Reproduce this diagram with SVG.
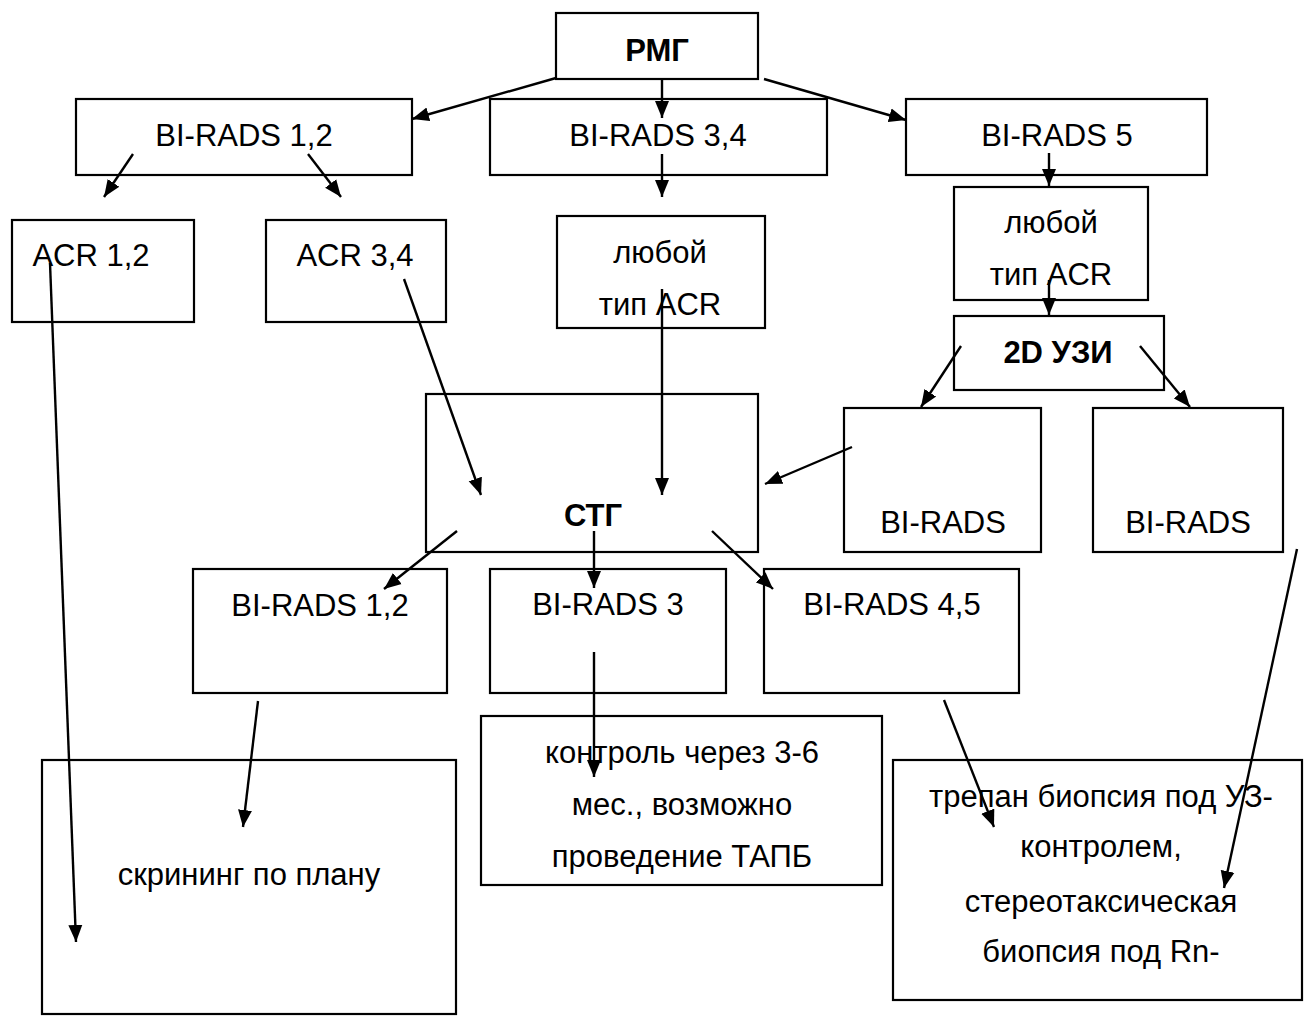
<svg xmlns="http://www.w3.org/2000/svg" width="1304" height="1016" viewBox="0 0 1304 1016">
<style>
.box{fill:#fff;stroke:#000;stroke-width:2.2}
.t{font-family:"Liberation Sans",Arial,sans-serif;font-size:31px;fill:#000;text-anchor:middle}
.b{font-weight:bold}
.c{stroke:#000;stroke-width:2.4;fill:none;marker-end:url(#ah)}
</style>
<defs>
<marker id="ah" markerUnits="userSpaceOnUse" markerWidth="18" markerHeight="16" refX="17" refY="8" orient="auto">
<path d="M0,1 L17,8 L0,15 z" fill="#000"/>
</marker>
</defs>
<rect width="1304" height="1016" fill="#fff"/>
<g id="n-rmg"><rect class="box" x="556" y="13" width="202" height="66"/><text class="t b" x="657" y="61">РМГ</text></g>
<g id="n-br12"><rect class="box" x="76" y="99" width="336" height="76"/><text class="t" x="244" y="146">BI-RADS 1,2</text></g>
<g id="n-br34"><rect class="box" x="490" y="99" width="337" height="76"/><text class="t" x="658" y="146">BI-RADS 3,4</text></g>
<g id="n-br5"><rect class="box" x="906" y="99" width="301" height="76"/><text class="t" x="1057" y="146">BI-RADS 5</text></g>
<g id="n-acr12"><rect class="box" x="12" y="220" width="182" height="102"/><text class="t" x="91" y="266">ACR 1,2</text></g>
<g id="n-acr34"><rect class="box" x="266" y="220" width="180" height="102"/><text class="t" x="355" y="266">ACR 3,4</text></g>
<g id="n-any1"><rect class="box" x="557" y="216" width="208" height="112"/><text class="t" x="660" y="263">любой</text><text class="t" x="660" y="315">тип ACR</text></g>
<g id="n-any2"><rect class="box" x="954" y="187" width="194" height="113"/><text class="t" x="1051" y="233">любой</text><text class="t" x="1051" y="285">тип ACR</text></g>
<g id="n-us"><rect class="box" x="954" y="316" width="210" height="74"/><text class="t b" x="1058" y="363">2D УЗИ</text></g>
<g id="n-usbr1"><rect class="box" x="844" y="408" width="197" height="144"/><text class="t" x="943" y="533">BI-RADS</text></g>
<g id="n-usbr2"><rect class="box" x="1093" y="408" width="190" height="144"/><text class="t" x="1188" y="533">BI-RADS</text></g>
<g id="n-stg"><rect class="box" x="426" y="394" width="332" height="158"/><text class="t b" x="593" y="526">СТГ</text></g>
<g id="n-sbr12"><rect class="box" x="193" y="569" width="254" height="124"/><text class="t" x="320" y="616">BI-RADS 1,2</text></g>
<g id="n-sbr3"><rect class="box" x="490" y="569" width="236" height="124"/><text class="t" x="608" y="615">BI-RADS 3</text></g>
<g id="n-sbr45"><rect class="box" x="764" y="569" width="255" height="124"/><text class="t" x="892" y="615">BI-RADS 4,5</text></g>
<g id="n-screen"><rect class="box" x="42" y="760" width="414" height="254"/><text class="t" x="249" y="885">скрининг по плану</text></g>
<g id="n-control"><rect class="box" x="481" y="716" width="401" height="169"/><text class="t" x="682" y="763">контроль через 3-6</text><text class="t" x="682" y="815">мес., возможно</text><text class="t" x="682" y="867">проведение ТАПБ</text></g>
<g id="n-biopsy"><rect class="box" x="893" y="760" width="409" height="240"/><text class="t" x="1101" y="807">трепан биопсия под УЗ-</text><text class="t" x="1101" y="857">контролем,</text><text class="t" x="1101" y="912">стереотаксическая</text><text class="t" x="1101" y="962">биопсия под Rn-</text></g>
<g id="connectors">
<line class="c" x1="556" y1="78" x2="412" y2="119"/>
<line class="c" x1="662" y1="79" x2="662" y2="118"/>
<line class="c" x1="764" y1="79" x2="906" y2="120"/>
<line class="c" x1="133" y1="154" x2="104" y2="197"/>
<line class="c" x1="308" y1="154" x2="341" y2="197"/>
<line class="c" x1="662" y1="154" x2="662" y2="197"/>
<line class="c" x1="1049" y1="153" x2="1049" y2="186"/>
<line class="c" x1="1049" y1="280" x2="1049" y2="315"/>
<line class="c" x1="961" y1="346" x2="921" y2="407"/>
<line class="c" x1="1140" y1="346" x2="1190" y2="407"/>
<line class="c" x1="404" y1="279" x2="481" y2="495"/>
<line class="c" x1="662" y1="289" x2="662" y2="495"/>
<line class="c" x1="852" y1="447" x2="765" y2="484"/>
<line class="c" x1="457" y1="531" x2="384" y2="589"/>
<line class="c" x1="594" y1="531" x2="594" y2="588"/>
<line class="c" x1="712" y1="531" x2="773" y2="589"/>
<line class="c" x1="258" y1="701" x2="243" y2="827"/>
<line class="c" x1="50" y1="263" x2="76" y2="942"/>
<line class="c" x1="594" y1="652" x2="594" y2="777"/>
<line class="c" x1="944" y1="700" x2="994" y2="827"/>
<line class="c" x1="1297" y1="549" x2="1224" y2="888"/>
</g>
</svg>
